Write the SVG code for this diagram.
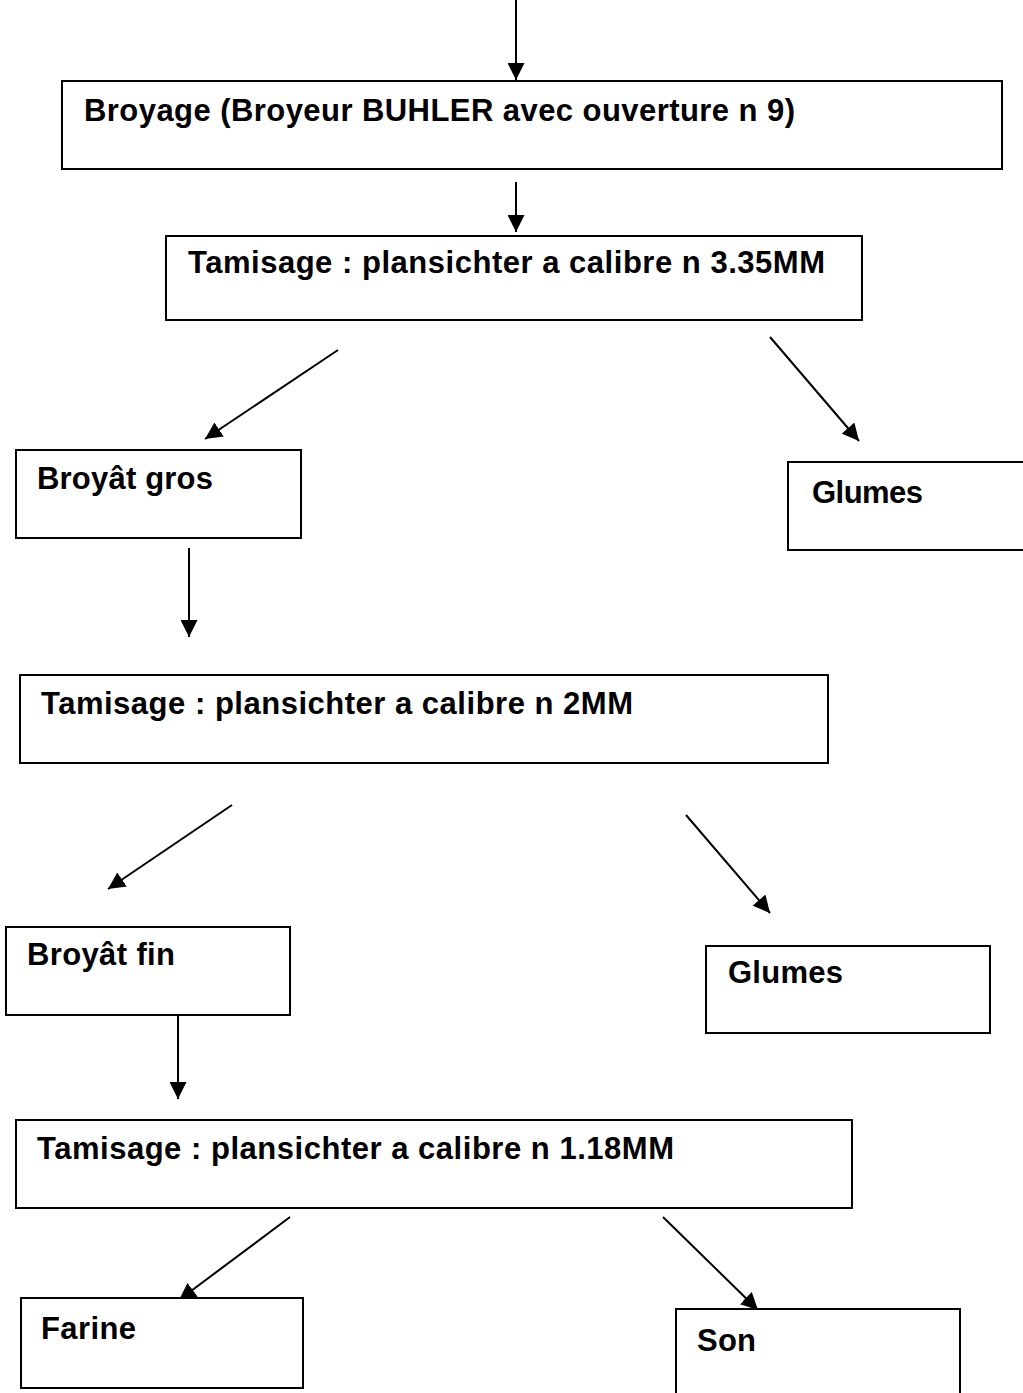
<svg xmlns="http://www.w3.org/2000/svg" width="1023" height="1393" viewBox="0 0 1023 1393">
<defs>
<marker id="ah" markerWidth="17" markerHeight="17" refX="17" refY="8.5" orient="auto" markerUnits="userSpaceOnUse" viewBox="0 0 17 17">
<path d="M0,0 L17,8.5 L0,17 z" fill="#000"/>
</marker>
</defs>
<style>
.box{fill:#fff;stroke:#000;stroke-width:2}
.t{font-family:"Liberation Sans",Arial,sans-serif;font-weight:bold;font-size:31px;fill:#000}
.c{stroke:#000;stroke-width:2;fill:none}
</style>
<rect width="1023" height="1393" fill="#fff"/>
<g id="connectors">
<line class="c" x1="516" y1="0" x2="516" y2="80" marker-end="url(#ah)"/>
<line class="c" x1="516" y1="182" x2="516" y2="232" marker-end="url(#ah)"/>
<line class="c" x1="338" y1="350" x2="205" y2="439" marker-end="url(#ah)"/>
<line class="c" x1="770" y1="337" x2="859" y2="441" marker-end="url(#ah)"/>
<line class="c" x1="189" y1="548" x2="189" y2="637" marker-end="url(#ah)"/>
<line class="c" x1="232" y1="805" x2="108" y2="889" marker-end="url(#ah)"/>
<line class="c" x1="686" y1="815" x2="770" y2="913" marker-end="url(#ah)"/>
<line class="c" x1="178" y1="1013" x2="178" y2="1099" marker-end="url(#ah)"/>
<line class="c" x1="290" y1="1217" x2="179" y2="1300" marker-end="url(#ah)"/>
<line class="c" x1="663" y1="1217" x2="758" y2="1310" marker-end="url(#ah)"/>
</g>
<g id="n1"><rect class="box" x="62" y="81" width="940" height="88"/><text class="t" x="84" y="121" textLength="711">Broyage (Broyeur BUHLER avec ouverture n 9)</text></g>
<g id="n2"><rect class="box" x="166" y="236" width="696" height="84"/><text class="t" x="188" y="273" textLength="637">Tamisage : plansichter a calibre n 3.35MM</text></g>
<g id="n3"><rect class="box" x="16" y="450" width="285" height="88"/><text class="t" x="37" y="489" textLength="176">Broyât gros</text></g>
<g id="n4"><rect class="box" x="788" y="462" width="245" height="88"/><text class="t" x="812" y="503" textLength="111">Glumes</text></g>
<g id="n5"><rect class="box" x="20" y="675" width="808" height="88"/><text class="t" x="41" y="714" textLength="592">Tamisage : plansichter a calibre n 2MM</text></g>
<g id="n6"><rect class="box" x="6" y="927" width="284" height="88"/><text class="t" x="27" y="965" textLength="148">Broyât fin</text></g>
<g id="n7"><rect class="box" x="706" y="946" width="284" height="87"/><text class="t" x="728" y="983" textLength="115">Glumes</text></g>
<g id="n8"><rect class="box" x="16" y="1120" width="836" height="88"/><text class="t" x="37" y="1159" textLength="637">Tamisage : plansichter a calibre n 1.18MM</text></g>
<g id="n9"><rect class="box" x="21" y="1298" width="282" height="90"/><text class="t" x="41" y="1339" textLength="95">Farine</text></g>
<g id="n10"><rect class="box" x="676" y="1309" width="284" height="100"/><text class="t" x="697" y="1351" textLength="59">Son</text></g>
</svg>
